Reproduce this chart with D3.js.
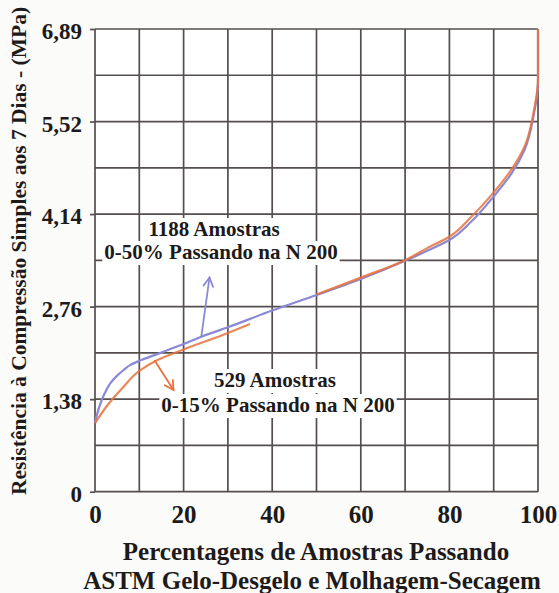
<!DOCTYPE html>
<html>
<head>
<meta charset="utf-8">
<script src="https://cdn.jsdelivr.net/npm/d3@7"></script>
<style>
  html, body { margin: 0; padding: 0; background: #fbfbf9; }
  svg { display: block; }
  text { font-family: "Liberation Serif", "Times New Roman", serif; font-weight: bold; fill: #1c1a1a; }
</style>
</head>
<body>
<svg id="chart" width="559" height="593"></svg>
<script>
// Percentage of samples passing vs. 7-day unconfined compressive strength (MPa)
const xTickValues = [0, 20, 40, 60, 80, 100];
const yTickValues = [0, 1.379, 2.758, 4.137, 5.516, 6.895];
const yTickLabels = ["0", "1,38", "2,76", "4,14", "5,52", "6,89"];
const yGridValues = d3.range(0, 11).map(i => i * 0.6895);
const xGridValues = d3.range(0, 101, 10);

// 1188 samples, 0-50% passing No. 200 sieve
const blueX = [0, 1, 2, 3.4, 5, 6.4, 8, 10, 14, 20, 24, 30, 40, 50, 60, 70, 75, 80, 85, 90, 94, 97, 99, 100, 100];
const blueY = [1.03, 1.27, 1.44, 1.61, 1.73, 1.81, 1.89, 1.95, 2.05, 2.2, 2.31, 2.45, 2.7, 2.93, 3.17, 3.44, 3.59, 3.75, 4.03, 4.4, 4.74, 5.1, 5.6, 6.1, 6.89];

// 529 samples, 0-15% passing No. 200 sieve (null marks the gap in the curve)
const orangeX = [0, 2.6, 6.4, 10, 14, 20, 29, 35, null, 50, 60, 70, 75, 80, 85, 90, 94, 97, 99, 100, 100];
const orangeY = [1.02, 1.27, 1.56, 1.8, 1.96, 2.12, 2.34, 2.5, null, 2.94, 3.19, 3.45, 3.63, 3.8, 4.1, 4.46, 4.8, 5.15, 5.65, 6.15, 6.89];

const svg = d3.select("#chart");
const plotL = 95, plotR = 538, plotT = 29, plotB = 491.7;

const x = d3.scaleLinear().domain([0, 100]).range([plotL, plotR]);
const y = d3.scaleLinear().domain([0, 6.895]).range([plotB, plotT]);

const gridColor = "#544e4e";

// plot background
svg.append("rect").attr("x", plotL).attr("y", plotT)
  .attr("width", plotR - plotL).attr("height", plotB - plotT).attr("fill", "#ffffff");

// grid
const grid = svg.append("g").attr("stroke", gridColor).attr("stroke-width", 1.7);
grid.selectAll("line.v").data(xGridValues).join("line").attr("class", "v")
  .attr("x1", d => x(d)).attr("x2", d => x(d)).attr("y1", plotT).attr("y2", plotB);
grid.selectAll("line.h").data(yGridValues).join("line").attr("class", "h")
  .attr("y1", d => y(d)).attr("y2", d => y(d)).attr("x1", plotL).attr("x2", plotR);

// y axis (ticks outward, custom labels)
const yAxis = d3.axisLeft(y).tickValues(yTickValues)
  .tickFormat((d, i) => yTickLabels[i]).tickSize(5).tickPadding(8);
const gy = svg.append("g").attr("transform", `translate(${plotL},0)`).call(yAxis);
gy.select(".domain").remove();
gy.selectAll(".tick line").attr("stroke", gridColor).attr("stroke-width", 1.7);
gy.selectAll(".tick text").attr("font-size", 23).attr("dy", "0.42em")
  .style("font-family", "'Liberation Serif', serif").style("font-weight", "bold").attr("fill", "#1c1a1a");

// x axis
const xAxis = d3.axisBottom(x).tickValues(xTickValues).tickSize(0).tickPadding(14);
const gx = svg.append("g").attr("transform", `translate(0,${plotB})`).call(xAxis);
gx.select(".domain").remove();
gx.selectAll(".tick text").attr("font-size", 25)
  .style("font-family", "'Liberation Serif', serif").style("font-weight", "bold").attr("fill", "#1c1a1a");

// curves
const toPts = (xs, ys) => xs.map((v, i) => [v, ys[i]]);
const line = d3.line()
  .defined(d => d[0] !== null && d[1] !== null)
  .x(d => x(d[0])).y(d => y(d[1]))
  .curve(d3.curveMonotoneY);

svg.append("path").attr("d", line(toPts(blueX, blueY)))
  .attr("fill", "none").attr("stroke", "#8b88d6").attr("stroke-width", 2.2);
svg.append("path").attr("d", line(toPts(orangeX, orangeY)))
  .attr("fill", "none").attr("stroke", "#e8723c").attr("stroke-width", 2.2).attr("stroke-opacity", 0.85);

// annotation text with white backing boxes
function label(txt, cx, baseline, size) {
  const t = svg.append("text").attr("x", cx).attr("y", baseline)
    .attr("text-anchor", "middle").attr("font-size", size).text(txt);
  const b = t.node().getBBox();
  svg.insert("rect", function () { return t.node(); })
    .attr("x", b.x - 2).attr("y", b.y + 1).attr("width", b.width + 4).attr("height", b.height)
    .attr("fill", "#ffffff");
  return t;
}

// arrows pointing from the curves to their labels
function arrow(x0, y0, x1, y1, color) {
  const ang = Math.atan2(y1 - y0, x1 - x0);
  const len = 10, spread = 0.5;
  const g = svg.append("g").attr("stroke", color).attr("stroke-width", 1.8)
    .attr("fill", "none").attr("stroke-linecap", "round");
  g.append("line").attr("x1", x0).attr("y1", y0).attr("x2", x1).attr("y2", y1);
  g.append("path").attr("d",
    `M${x1 - len * Math.cos(ang - spread)},${y1 - len * Math.sin(ang - spread)}` +
    `L${x1},${y1}` +
    `L${x1 - len * Math.cos(ang + spread)},${y1 - len * Math.sin(ang + spread)}`);
}

label("1188 Amostras", 214, 236, 21);
label("0-50% Passando na N 200", 221, 259, 21);
label("529 Amostras", 275, 387, 21);
label("0-15% Passando na N 200", 278, 412, 21);

arrow(x(24), y(2.31), 209.5, 277.5, "#8b88d6");
arrow(x(13.5), y(1.95), 173.5, 390, "#e8723c");

// axis titles
svg.append("text").attr("x", 316).attr("y", 560).attr("text-anchor", "middle")
  .attr("font-size", 25).text("Percentagens de Amostras Passando");
svg.append("text").attr("x", 312).attr("y", 589).attr("text-anchor", "middle")
  .attr("font-size", 25).text("ASTM Gelo-Desgelo e Molhagem-Secagem");
svg.append("text").attr("transform", "translate(26,251) rotate(-90)")
  .attr("text-anchor", "middle").attr("font-size", 21.5)
  .text("Resistência à Compressão Simples aos 7 Dias - (MPa)");
</script>
</body>
</html>
